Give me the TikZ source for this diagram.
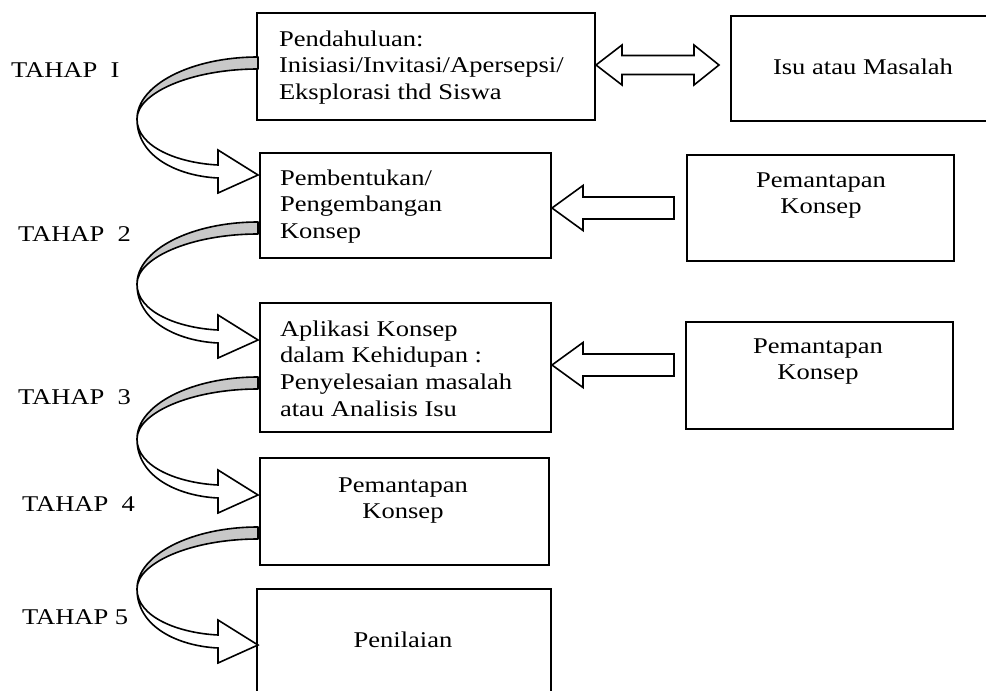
\documentclass[tikz,border=0pt]{standalone}
\usepackage{fontspec}
\setmainfont{Liberation Serif}[FakeStretch=1.18]
\usetikzlibrary{calc}
\definecolor{bandgray}{RGB}{200,200,200}
\begin{document}
\begin{tikzpicture}[x=1pt,y=-1pt,
  box/.style={draw, line width=2pt, inner sep=0pt, outer sep=0pt, anchor=north west},
  txt/.style={font=\fontsize{22.5}{26.7}\selectfont, inner sep=0pt, outer sep=0pt},
  blk/.style={draw, line width=1.6pt, fill=white, line join=miter},
  band/.style={draw, line width=1.6pt, fill=bandgray, line join=round},
  curv/.pic={
    \path[band] (0,0) .. controls (-67,0) and (-121,28) .. (-121,62)
       .. controls (-121,36) and (-67,12) .. (0,12) -- cycle;
    \path[blk] (-121,62) .. controls (-121,100) and (-80,119) .. (-40,121)
       -- (-40,136) -- (0,118) -- (-40,93) -- (-40,108)
       .. controls (-80,106) and (-121,90) .. (-121,62) -- cycle;
  }]
\useasboundingbox (0,0) rectangle (986,691);

% boxes
\node[box, minimum width=338, minimum height=107] (b1) at (257,13) {};
\node[box, minimum width=264, minimum height=105] (isu) at (731,16) {};
\node[box, minimum width=291, minimum height=105] (b2) at (260,153) {};
\node[box, minimum width=267, minimum height=106] (r1) at (687,155) {};
\node[box, minimum width=291, minimum height=129] (b3) at (260,303) {};
\node[box, minimum width=267, minimum height=107] (r2) at (686,322) {};
\node[box, minimum width=289, minimum height=107] (b4) at (260,458) {};
\node[box, minimum width=294, minimum height=111] (b5) at (257,589) {};

% texts (base anchor = baseline of the last line)
\node[txt, anchor=base west, align=left] (t1) at (279,99.4) {Pendahuluan:\\Inisiasi/Invitasi/Apersepsi/\\Eksplorasi thd Siswa};
\node[txt, anchor=base] (tisu) at (863,74) {Isu atau Masalah};
\node[txt, anchor=base west, align=left] (t2) at (280,238.4) {Pembentukan/\\Pengembangan\\Konsep};
\node[txt, anchor=base, align=center] (tr1) at (821,213.7) {Pemantapan\\Konsep};
\node[txt, anchor=base west, align=left] (t3) at (280,416.1) {Aplikasi Konsep\\dalam Kehidupan :\\Penyelesaian masalah\\atau Analisis Isu};
\node[txt, anchor=base, align=center] (tr2) at (818,379.7) {Pemantapan\\Konsep};
\node[txt, anchor=base, align=center] (t4) at (403,518.7) {Pemantapan\\Konsep};
\node[txt, anchor=base] (t5) at (403,647) {Penilaian};

% stage labels
\node[txt, anchor=base west] (s1) at (11,77) {TAHAP\ \ I};
\node[txt, anchor=base west] (s2) at (18,241) {TAHAP\ \ 2};
\node[txt, anchor=base west] (s3) at (18,404) {TAHAP\ \ 3};
\node[txt, anchor=base west] (s4) at (22,511) {TAHAP\ \ 4};
\node[txt, anchor=base west] (s5) at (22,624) {TAHAP 5};

% curved arrows between stages
\pic at ($(b1.north west)+(1,44)$) {curv};
\pic at ($(b2.north west)+(-2,69)$) {curv};
\pic at ($(b3.north west)+(-2,74)$) {curv};
\pic at ($(b4.north west)+(-2,69)$) {curv};

% double block arrow
\path[blk] ($(b1.east)+(1,-1.5)$) -- ++(26,-20) -- ++(0,10.5) -- ++(72,0) -- ++(0,-10.5)
   -- ++(25,20) -- ++(-25,20) -- ++(0,-10.5) -- ++(-72,0) -- ++(0,10.5) -- cycle;

% left block arrows
\path[blk] ($(b2.east)+(1,2.5)$) -- ++(31,-22.5) -- ++(0,11.5) -- ++(91,0) -- ++(0,22)
   -- ++(-91,0) -- ++(0,11.5) -- cycle;
\path[blk] ($(b3.east)+(1,-2.5)$) -- ++(31,-22.5) -- ++(0,11.5) -- ++(91,0) -- ++(0,22)
   -- ++(-91,0) -- ++(0,11.5) -- cycle;
\end{tikzpicture}
\end{document}
